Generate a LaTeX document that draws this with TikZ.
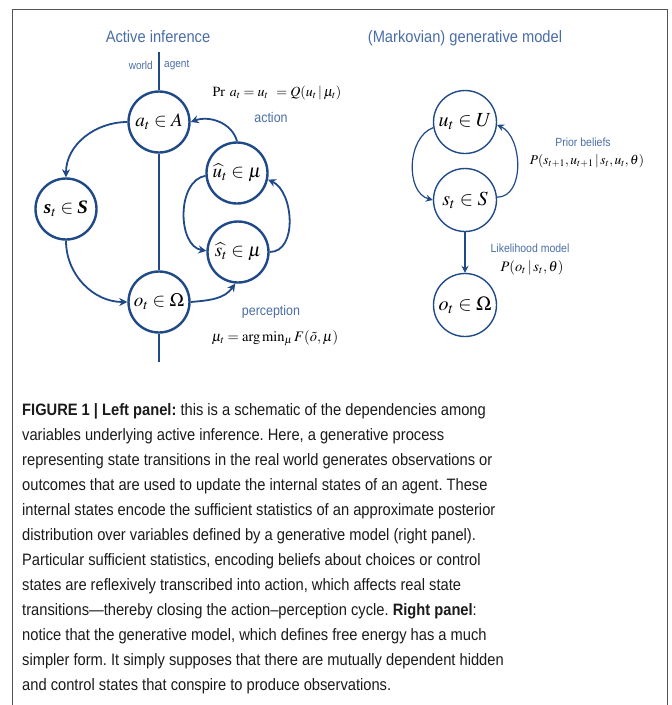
\documentclass[tikz,border=0pt]{standalone}
\usepackage{amsmath}
\usepackage{mathptmx}
\usepackage[no-math]{fontspec}
\newfontfamily\cond[FakeStretch=0.89]{Liberation Sans}
\newfontfamily\tms{Liberation Serif}
\usetikzlibrary{arrows.meta}
\definecolor{cblue}{HTML}{1F4A87}
\definecolor{tblue}{HTML}{4A6DA7}
\definecolor{framegray}{HTML}{555555}
\definecolor{captext}{HTML}{1A1A1A}
\newcommand{\bfi}[1]{\text{\tms\bfseries\itshape #1}}
\frenchspacing
\begin{document}
\begin{tikzpicture}[x=1pt,y=1pt,
  st/.style={circle,draw=cblue,line width=2.4pt,minimum size=61pt,inner sep=0pt,font=\fontsize{19}{19}\selectfont},
  rst/.style={circle,draw=cblue,line width=1.4pt,minimum size=63pt,inner sep=0pt,font=\fontsize{20}{20}\selectfont},
  arr/.style={draw=cblue,line width=1.8pt,-{Stealth[length=8pt,width=8pt]}},
  rarr/.style={draw=cblue,line width=1.2pt,-{Stealth[length=7pt,width=7pt]}},
  wline/.style={draw=cblue,line width=2pt},
  ttl/.style={text=tblue,font=\cond\fontsize{16.5}{17}\selectfont,inner sep=0pt},
  lab/.style={text=tblue,font=\cond\fontsize{14}{14}\selectfont,inner sep=0pt},
  slab/.style={text=tblue,font=\cond\fontsize{11.3}{12}\selectfont,inner sep=0pt},
  rlab/.style={text=tblue,font=\cond\fontsize{11.8}{12}\selectfont,inner sep=0pt},
  eq/.style={font=\fontsize{14.5}{15}\selectfont,inner sep=0pt},
  captxt/.style={anchor=base west,inner sep=0pt,text=captext,font=\cond\fontsize{16.5}{16}\selectfont}]
\useasboundingbox (0,0) rectangle (672,-705);
% frame
\draw[framegray,line width=1pt] (12,-706) -- (12,-9) -- (667,-9) -- (667,-706);

% ---------- left panel ----------
\node[ttl] (t1) at (158,-37) {Active inference};
\node[slab,anchor=east] (world) at (153,-65) {world};
\node[slab,anchor=west] (agent) at (164,-65) {agent};
\coordinate (ltop) at (159,-52);
\coordinate (lbot) at (159,-362);

\node[st] (a) at (159,-122) {$a_t\in A$};
\node[st] (s) at (66,-209) {$\bfi{s}_t\in\bfi{S}$};
\node[st] (o) at (159,-302) {$o_t\in\Omega$};
\node[st] (uh) at (237,-173) {$\widehat{u}_t\in\mu$};
\node[st] (sh) at (238,-252) {$\widehat{s}_t\in\mu$};

\draw[wline] (ltop) -- (a.north);
\draw[wline] (a.south) -- (o.north);
\draw[wline] (o.south) -- (lbot);

\draw[arr] (a.west) to[out=180,in=90] (s.north);
\draw[arr] (s.south) to[out=-90,in=180] (o.west);
\draw[arr] (o.east) to[out=5,in=-125] (sh.-95);
\draw[arr] (uh.north) to[out=105,in=20] (a.east);
\draw[arr] (uh.185) to[out=190,in=170] (sh.178);
\draw[arr] (sh.east) to[out=0,in=-25] (uh.-12);

\node[eq,font=\fontsize{14}{14}\selectfont] (pr) at (277,-93) {$\mathrm{Pr}\;\, a_t = u_t \;\, = Q(u_t\,|\,\mu_t)$};
\node[lab] (action) at (271,-117) {action};
\node[lab] (perc) at (271,-312) {perception};
\node[eq] (argmin) at (275,-338) {$\mu_t = \arg\min\nolimits_\mu F(\tilde{o},\mu)$};

% ---------- right panel ----------
\node[ttl] (t2) at (465,-38) {(Markovian) generative model};
\node[rst] (ru) at (465,-122) {$u_t\in U$};
\node[rst] (rs) at (465,-200) {$s_t\in S$};
\node[rst] (ro) at (465,-305) {$o_t\in\Omega$};

\draw[rarr] (ru.190) to[out=200,in=165] (rs.180);
\draw[rarr] (rs.5) to[out=0,in=-25] (ru.-5);
\draw[rarr] (rs.south) -- (ro.north);

\node[rlab] (prior) at (583,-142) {Prior beliefs};
\node[eq,font=\fontsize{13.5}{14}\selectfont] (pp) at (587,-161) {$P(s_{t+1},u_{t+1}\,|\,s_t,u_t,\theta)$};
\node[rlab] (lik) at (530,-248) {Likelihood model};
\node[eq] (pl) at (532,-268) {$P(o_t\,|\,s_t,\theta)$};

% ---------- caption ----------
\node[captxt] (c1) at (22,-415) {\textbf{FIGURE 1 | Left panel:} this is a schematic of the dependencies among};
\node[captxt] (c2) at (22,-440) {variables underlying active inference. Here, a generative process};
\node[captxt] (c3) at (22,-465) {representing state transitions in the real world generates observations or};
\node[captxt] (c4) at (22,-490) {outcomes that are used to update the internal states of an agent. These};
\node[captxt] (c5) at (22,-515) {internal states encode the sufficient statistics of an approximate posterior};
\node[captxt] (c6) at (22,-540) {distribution over variables defined by a generative model (right panel).};
\node[captxt] (c7) at (22,-565) {Particular sufficient statistics, encoding beliefs about choices or control};
\node[captxt] (c8) at (22,-590) {states are reflexively transcribed into action, which affects real state};
\node[captxt] (c9) at (22,-615) {transitions—thereby closing the action–perception cycle. \textbf{Right panel}:};
\node[captxt] (c10) at (22,-640) {notice that the generative model, which defines free energy has a much};
\node[captxt] (c11) at (22,-665) {simpler form. It simply supposes that there are mutually dependent hidden};
\node[captxt] (c12) at (22,-690) {and control states that conspire to produce observations.};
\end{tikzpicture}
\end{document}
